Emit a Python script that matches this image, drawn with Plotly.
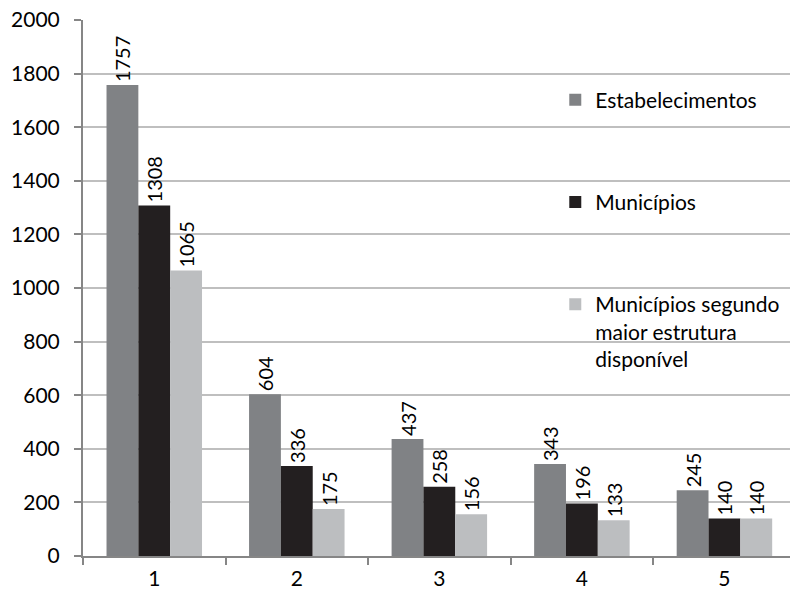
import plotly.graph_objects as go

categories = ["1", "2", "3", "4", "5"]
estabelecimentos = [1757, 604, 437, 343, 245]
municipios = [1308, 336, 258, 196, 140]
municipios_estrutura = [1065, 175, 156, 133, 140]

series = [
    ("Estabelecimentos", estabelecimentos, "#808285"),
    ("Municípios", municipios, "#231f20"),
    ("Municípios segundo<br>maior estrutura<br>disponível",
     municipios_estrutura, "#bcbec0"),
]

FONT = "Lato"
fig = go.Figure()
for i, (name, vals, color) in enumerate(series):
    fig.add_trace(go.Bar(
        x=categories, y=vals, name=name, legendgroup=str(i),
        marker=dict(color=color, line=dict(width=0)),
        text=[str(v) for v in vals], textposition="outside", textangle=-90,
        textfont=dict(family=FONT, size=20, color="#000000"),
        constraintext="none", cliponaxis=False,
    ))

fig.update_layout(
    width=790, height=593,
    margin=dict(l=83, r=0, t=20, b=37),
    paper_bgcolor="white", plot_bgcolor="white",
    barmode="group", bargap=0.33, bargroupgap=0,
    font=dict(family=FONT, size=21, color="#000000"),
    showlegend=True,
    legend=dict(
        x=0.668, y=0.889, xanchor="left", yanchor="top",
        bgcolor="rgba(255,255,255,0)", borderwidth=0,
        font=dict(family=FONT, size=21, color="#000000"),
        tracegroupgap=72, traceorder="grouped", valign="top",
        itemclick=False, itemdoubleclick=False,
    ),
    xaxis=dict(
        type="category", range=[-0.5, 4.46], tickson="boundaries",
        ticks="outside", ticklen=7, tickwidth=2, tickcolor="#868686",
        showline=True, linecolor="#868686", linewidth=2,
        showgrid=False, tickfont=dict(family=FONT, size=21),
        ticklabelstandoff=3,
    ),
    yaxis=dict(
        range=[0, 2000], tick0=0, dtick=200,
        ticks="outside", ticklen=7, tickwidth=2, tickcolor="#868686",
        showline=True, linecolor="#868686", linewidth=2,
        showgrid=True, gridcolor="#bfbfbf", gridwidth=2,
        zeroline=False, tickfont=dict(family=FONT, size=21),
        ticklabelstandoff=10,
    ),
)

fig.write_html("out.html")
